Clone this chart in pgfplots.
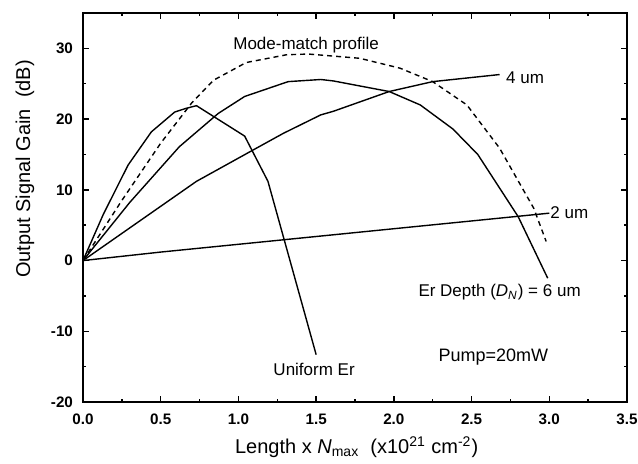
\documentclass[border=0pt]{standalone}
\usepackage{pgfplots}
\pgfplotsset{compat=1.18}
\usepackage{fontspec}
\setmainfont{Liberation Sans}
\begin{document}
\begin{tikzpicture}
\useasboundingbox (-41.5pt,-30.5pt) rectangle (277.5pt,201pt);
\begin{axis}[
  scale only axis,
  width=272pt, height=194.5pt,
  xmin=0, xmax=3.5, ymin=-20, ymax=35,
  xtick={0,0.5,...,3.5},
  ytick={-20,-10,0,10,20,30},
  minor xtick={0.25,0.75,...,3.25},
  minor ytick={-15,-5,5,15,25,35},
  tick align=inside,
  major tick length=3pt,
  minor tick length=1.6pt,
  every tick/.style={black, line width=0.7pt},
  axis line style={line width=1.1pt},
  xticklabel style={/pgf/number format/fixed, /pgf/number format/fixed zerofill, /pgf/number format/precision=1, yshift=-2.5pt},
  /pgf/number format/assume math mode=true,
  tick label style={font=\fontsize{7.6}{9}\selectfont\bfseries},
  yticklabel style={xshift=-1.5pt},
  xlabel={Length x \textit{N}\textsubscript{max}\ \ (x10\textsuperscript{21} cm\textsuperscript{-2})},
  ylabel={Output Signal Gain\ \ (dB)},
  label style={font=\fontsize{10}{12}\selectfont},
  xlabel style={at={(axis description cs:0.503,-0.1157)}, anchor=center},
  ylabel style={at={(axis description cs:-0.1066,0.599)}, anchor=center},
  clip=false,
]
% Uniform Er
\addplot[black, line width=0.7pt] coordinates {
(0,0) (0.13,6.5) (0.29,13.5) (0.44,18.2) (0.59,21.0) (0.66,21.5) (0.73,21.9)
(1.04,17.6) (1.19,11.2) (1.50,-13.3)};
% 6 um
\addplot[black, line width=0.7pt] coordinates {
(0,0) (0.30,8.2) (0.62,16.1) (0.87,20.8) (1.04,23.2) (1.32,25.3) (1.53,25.6)
(1.61,25.4) (1.97,23.9) (2.17,22.0) (2.38,18.6) (2.54,15.0) (2.80,6.2) (2.99,-2.5)};
% 4 um
\addplot[black, line width=0.7pt] coordinates {
(0,0) (0.73,11.2) (1.10,15.7) (1.29,18.0) (1.53,20.6) (1.61,21.1) (1.97,23.9)
(2.25,25.3) (2.68,26.3)};
% 2 um
\addplot[black, line width=0.7pt] coordinates {
(0,0) (0.5,1.2) (1.0,2.3) (1.5,3.4) (2.0,4.5) (2.5,5.6) (3.0,6.7)};
% Mode-match profile
\addplot[black, line width=0.7pt, dash pattern=on 2.5pt off 2pt] coordinates {
(0,0) (0.25,8.5) (0.5,16.6) (0.70,22.3) (0.84,25.5) (1.05,28.0) (1.31,29.1)
(1.45,29.2) (1.78,28.6) (2.04,27.2) (2.25,25.3) (2.47,22.0) (2.68,15.9)
(2.90,7.4) (2.98,2.7)};
\begin{scope}[every node/.style={font=\fontsize{8.5}{10}\selectfont, inner sep=0pt, anchor=west}]
\node at (axis cs:0.965,30.5) {Mode-match profile};
\node at (axis cs:2.72,25.9) {4 um};
\node at (axis cs:3.005,6.8) {2 um};
\node at (axis cs:2.156,-4.5) {Er Depth (\textit{D}\textsubscript{\textit{N}}) = 6 um};
\node[font=\fontsize{9}{11}\selectfont] at (axis cs:2.285,-13.6) {Pump=20mW};
\node at (axis cs:1.223,-15.4) {Uniform Er};
\end{scope}
\end{axis}
\end{tikzpicture}
\end{document}
